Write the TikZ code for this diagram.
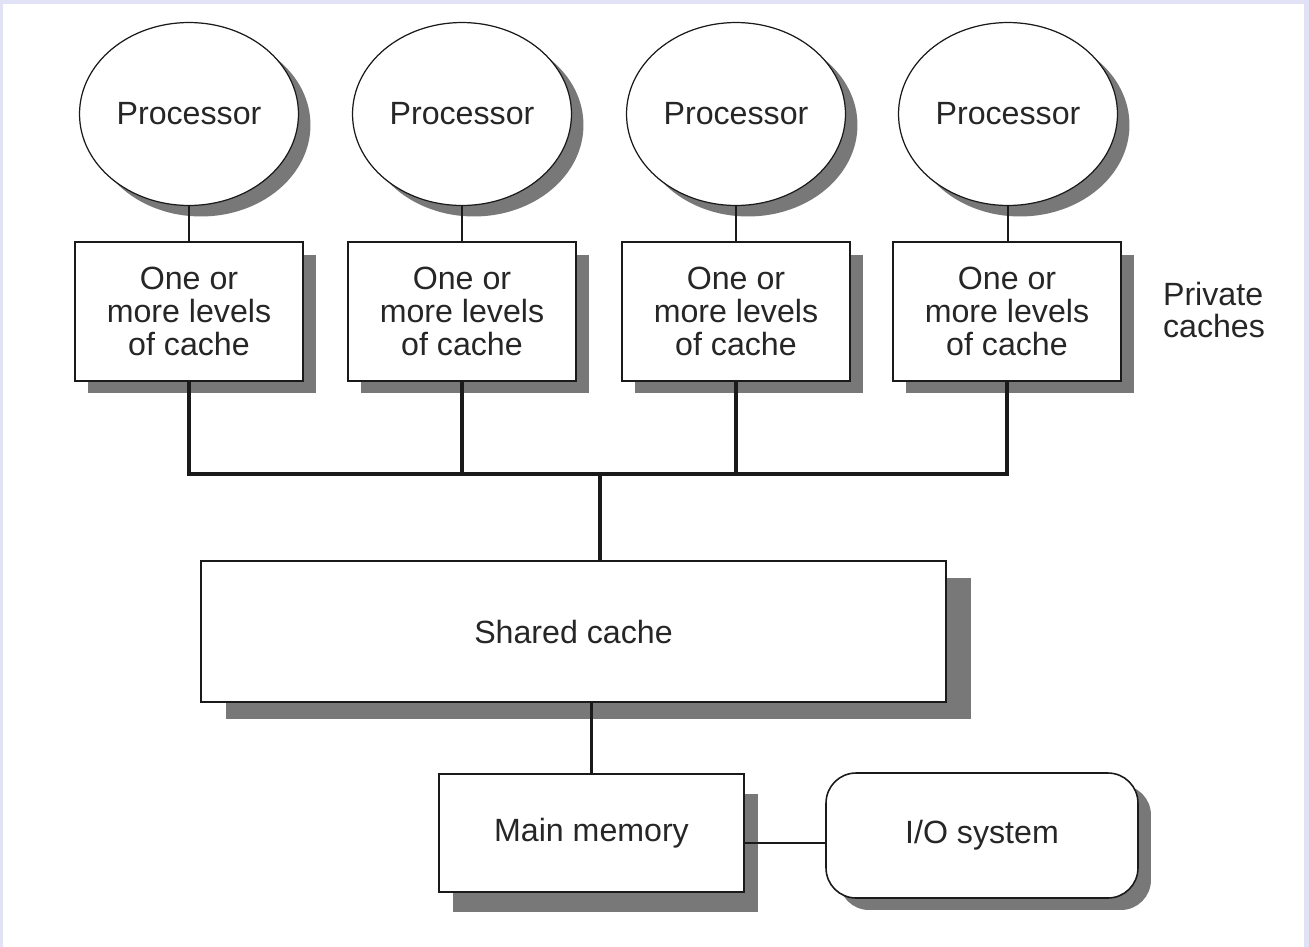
\documentclass[tikz,border=0pt]{standalone}
\usepackage{fontspec}
\setmainfont{Liberation Sans}
\usetikzlibrary{shapes.geometric,shadows}
\definecolor{shadowgray}{HTML}{787878}
\definecolor{slideframe}{HTML}{E2E2F6}
\definecolor{inkline}{HTML}{1A1A1A}
\begin{document}
\begin{tikzpicture}[x=0.02cm, y=-0.02cm,
  every node/.style={font=\fontsize{18.3}{18.6}\selectfont, text=black!85},
  proc/.style={ellipse, draw=inkline, line width=0.7pt, fill=white, inner sep=0pt,
    minimum width=4.38cm, minimum height=3.66cm,
    drop shadow={shadow xshift=0.24cm, shadow yshift=-0.22cm, fill=shadowgray, opacity=1}},
  plainbox/.style={rectangle, draw=inkline, line width=0.9pt, fill=white, align=center},
  cachebox/.style={plainbox, minimum width=4.56cm, minimum height=2.78cm,
    drop shadow={shadow xshift=0.26cm, shadow yshift=-0.25cm, fill=shadowgray, opacity=1}},
  link/.style={draw=inkline, line width=0.8pt},
  bus/.style={draw=inkline, line width=2.1pt}]

  % slide background
  \useasboundingbox (0,0) rectangle (1309,947);
  \fill[slideframe] (0,0) rectangle (1309,947);
  \fill[white] (3,4) rectangle (1304,947);

  % processors
  \node[proc](P1) at (189,114) {Processor};
  \node[proc](P2) at (462,114) {Processor};
  \node[proc](P3) at (736,114) {Processor};
  \node[proc](P4) at (1008,114) {Processor};

  % private caches
  \node[cachebox](C1) at (189,311.5) {One or\\more levels\\of cache};
  \node[cachebox](C2) at (462,311.5) {One or\\more levels\\of cache};
  \node[cachebox](C3) at (736,311.5) {One or\\more levels\\of cache};
  \node[cachebox](C4) at (1007,311.5) {One or\\more levels\\of cache};
  \node[align=left](PC) at (1214,310) {Private\\caches};

  % shared cache, memory and I/O
  \node[plainbox, minimum width=14.9cm, minimum height=2.82cm,
    drop shadow={shadow xshift=0.5cm, shadow yshift=-0.34cm, fill=shadowgray, opacity=1}](SC) at (573.5,631.5) {Shared cache};
  \node[plainbox, minimum width=6.1cm, minimum height=2.36cm,
    drop shadow={shadow xshift=0.28cm, shadow yshift=-0.4cm, fill=shadowgray, opacity=1}](MM) at (591.5,833) {Main memory};
  \node[plainbox, rounded corners=0.6cm, minimum width=6.24cm, minimum height=2.5cm,
    drop shadow={shadow xshift=0.26cm, shadow yshift=-0.24cm, fill=shadowgray, opacity=1}](IO) at (982,835.5) {I/O system};

  \draw[link] (P1.south) -- (P1.south |- C1.north);
  \draw[link] (P2.south) -- (P2.south |- C2.north);
  \draw[link] (P3.south) -- (P3.south |- C3.north);
  \draw[link] (P4.south) -- (P4.south |- C4.north);

  \coordinate (J) at (600,474);
  \draw[bus] (C1.south) |- (J) -| (C4.south);
  \draw[bus] (C2.south) -- (C2.south |- J);
  \draw[bus] (C3.south) -- (C3.south |- J);
  \draw[bus] (J) -- (J |- SC.north);

  \draw[link, line width=1.4pt] (SC.south -| MM.north) -- (MM.north);
  \draw[link, line width=1.4pt] ([yshift=-0.2cm]MM.east) -- ([yshift=-0.2cm]MM.east -| IO.west);
\end{tikzpicture}
\end{document}
